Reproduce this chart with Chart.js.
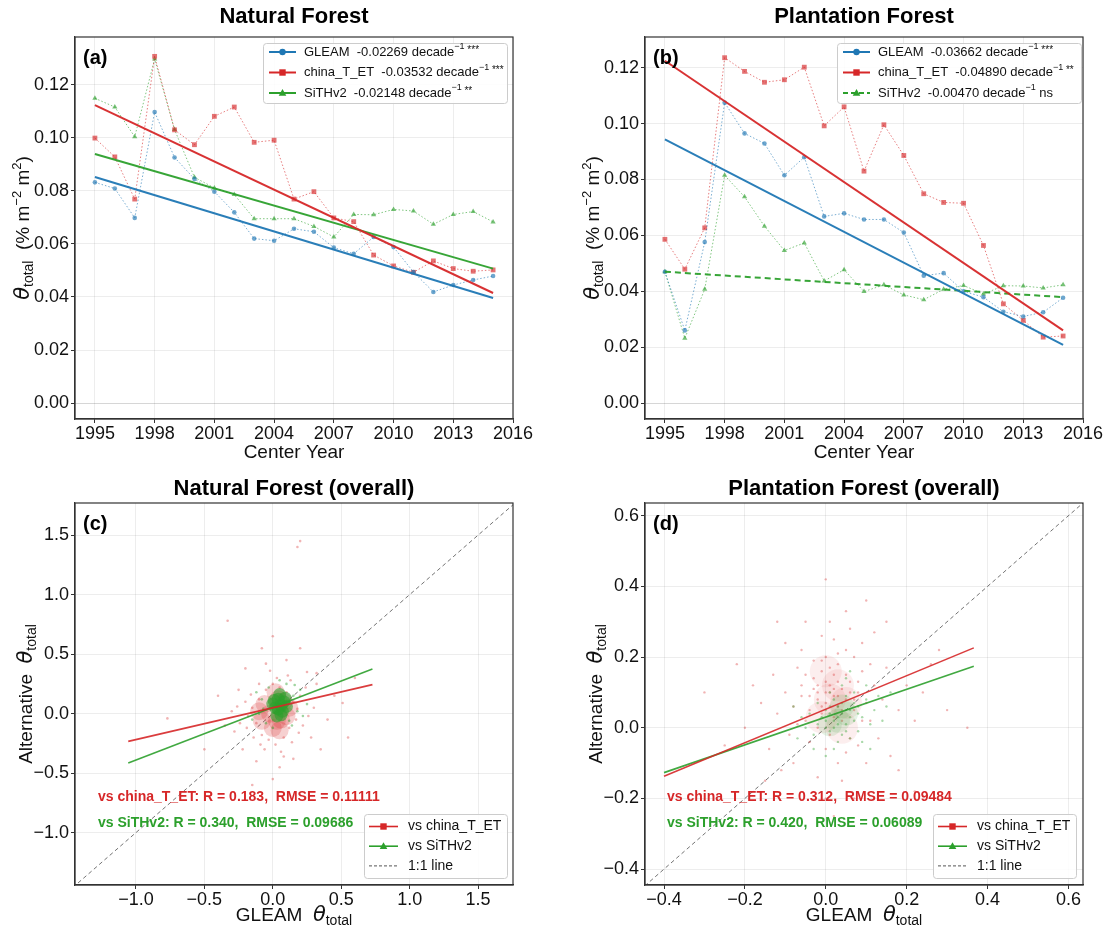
<!DOCTYPE html>
<html>
<head>
<meta charset="utf-8">
<script src="https://cdn.jsdelivr.net/npm/chart.js@4.4.0/dist/chart.umd.min.js"></script>
<style>
body { margin: 0; background: #fff; }
#wrap { position: relative; width: 1104px; height: 929px; }
canvas { position: absolute; }
</style>
</head>
<body>
<div id="wrap">
  <canvas id="pa" width="552" height="465" style="left:0;top:0"></canvas>
  <canvas id="pb" width="552" height="465" style="left:552px;top:0"></canvas>
  <canvas id="pc" width="552" height="464" style="left:0;top:465px"></canvas>
  <canvas id="pd" width="552" height="464" style="left:552px;top:465px"></canvas>
</div>
<script>
// ---- data: time series (center year) ----
const years = [1995,1996,1997,1998,1999,2000,2001,2002,2003,2004,2005,2006,2007,2008,2009,2010,2011,2012,2013,2014,2015];
const yearTicks = [1995,1998,2001,2004,2007,2010,2013,2016];
const thetaTicks = [0,0.02,0.04,0.06,0.08,0.10,0.12];
const trendYears = [1995, 2015];

// natural forest
const natGleam = [0.0832,0.0809,0.0698,0.1097,0.0926,0.0845,0.0797,0.0719,0.0620,0.0612,0.0657,0.0646,0.0586,0.0563,0.0626,0.0588,0.0494,0.0419,0.0445,0.0464,0.0479];
const natChina = [0.0999,0.0928,0.0769,0.1307,0.1030,0.0974,0.1081,0.1116,0.0983,0.0991,0.0769,0.0797,0.0698,0.0684,0.0558,0.0517,0.0493,0.0536,0.0507,0.0497,0.0502];
const natSith  = [0.1149,0.1116,0.1004,0.1297,0.1031,0.0851,0.0811,0.0786,0.0695,0.0695,0.0695,0.0666,0.0626,0.0711,0.0710,0.0730,0.0724,0.0674,0.0711,0.0722,0.0683];
const natTrendGleam = [0.0852, 0.0396];
const natTrendChina = [0.1123, 0.0415];
const natTrendSith  = [0.0939, 0.0507];
const natSlopes = ['-0.02269', '-0.03532', '-0.02148'];
const natSig = ['***', '***', '**'];

// plantation forest
const plaGleam = [0.0470,0.0260,0.0576,0.1075,0.0965,0.0929,0.0815,0.0880,0.0668,0.0679,0.0657,0.0657,0.0610,0.0456,0.0465,0.0400,0.0379,0.0327,0.0310,0.0325,0.0377];
const plaChina = [0.0586,0.0479,0.0627,0.1236,0.1187,0.1148,0.1157,0.1202,0.0992,0.1060,0.0830,0.0996,0.0886,0.0749,0.0718,0.0715,0.0564,0.0355,0.0296,0.0236,0.0240];
const plaSith  = [0.0470,0.0232,0.0407,0.0815,0.0738,0.0633,0.0546,0.0573,0.0437,0.0477,0.0399,0.0423,0.0387,0.0370,0.0407,0.0421,0.0390,0.0420,0.0419,0.0412,0.0423];
const plaTrendGleam = [0.0944, 0.0208];
const plaTrendChina = [0.1225, 0.0260];
const plaTrendSith  = [0.0470, 0.0379];
const plaSlopes = ['-0.03662', '-0.04890', '-0.00470'];
const plaSig = ['***', '**', 'ns'];

// ---- data: overall scatter (GLEAM vs alternative) ----
const natTicks = [-1.0,-0.5,0.0,0.5,1.0,1.5];
const plaTicks = [-0.4,-0.2,0.0,0.2,0.4,0.6];
const natR = ['0.183', '0.340'];
const natRmse = ['0.11111', '0.09686'];
const plaR = ['0.312', '0.420'];
const plaRmse = ['0.09484', '0.06089'];
const natRegChina = [[-1.056,-0.233],[0.728,0.244]];
const natRegSith  = [[-1.056,-0.415],[0.728,0.376]];
const plaRegChina = [[-0.40,-0.137],[0.366,0.226]];
const plaRegSith  = [[-0.40,-0.127],[0.366,0.174]];
const natOneToOne = [-1.5, 1.8];
const plaOneToOne = [-0.5, 0.7];

const natChinaPts = [[-0.15,0.05],[-0.12,-0.08],[-0.1,0.12],[-0.08,-0.18],[-0.05,0.2],[-0.03,-0.22],[0.0,0.25],[0.02,-0.26],[0.05,0.22],[0.08,-0.2],
  [0.1,0.18],[0.12,-0.12],[0.15,0.1],[0.17,-0.05],[0.18,0.04],[-0.18,-0.02],[-0.2,0.1],[0.2,0.15],[-0.06,-0.3],[0.06,-0.32],
  [0.03,0.3],[-0.1,0.25],[0.13,0.28],[-0.14,-0.2],[0.22,-0.1],[-0.3,0.02],[-0.28,-0.15],[-0.25,0.2],[-0.22,-0.3],[-0.35,-0.1],
  [0.3,0.05],[0.28,-0.2],[0.32,0.25],[0.25,0.35],[-0.05,0.42],[0.05,-0.45],[-0.12,-0.4],[0.15,-0.38],[0.1,0.45],[-0.2,0.38],
  [0.4,-0.05],[0.45,0.15],[-0.4,0.15],[0.35,-0.3],[-0.08,0.55],[0.0,-0.55],[0.2,0.55],[-0.33,0.78],[-0.77,-0.04],[0.32,0.34],
  [0.51,0.09],[0.20,1.45],[0.18,1.40],[0.6,0.3],[-0.5,-0.3],[0.0,0.65],[-0.15,-0.6],[0.55,-0.2],[-0.24,-0.08],[0.26,-0.02],
  [-0.16,0.16],[0.19,-0.16],[-0.09,-0.26],[0.11,0.32],[-0.19,-0.12],[0.24,0.22],[0.08,-0.36],[-0.02,0.36],[0.14,-0.24],[-0.26,0.06]];
const natChinaCore = [[-0.02,0.0],[0.06,-0.05],[0.0,-0.12],[0.08,0.1],[-0.06,0.08],[0.04,0.12],[0.1,-0.02],[-0.08,-0.06],
  [0.05,-0.14],[0.12,0.05],[-0.1,0.02],[0.02,0.18],[0.03,-0.06]];
const natSithCore = [[0.02,0.05],[0.08,0.1],[0.04,0.12],[0.07,0.02],[0.0,0.08],[0.1,0.06],[0.05,0.16],[0.03,-0.02],
  [0.06,0.07],[0.04,0.04],[0.09,0.13],[0.01,0.11],[0.06,-0.01]];
const natSithPts = [[-0.1,0.0],[-0.08,0.12],[0.15,0.15],[0.18,0.02],[-0.05,-0.08],[0.12,-0.06],[0.2,0.2],[-0.12,0.18],[0.1,0.25],[0.0,-0.12],
  [0.25,0.08],[-0.15,-0.05],[0.22,-0.02],[0.05,0.28],[-0.03,0.22],[0.16,0.24],[-0.07,0.04],[0.14,-0.1]];

const plaChinaPts = [[-0.02,0.08],[0.01,0.1],[0.03,0.06],[0.0,0.13],[0.04,0.11],[-0.04,0.05],[0.02,0.15],[0.05,0.08],[-0.01,0.04],[0.06,0.13],
  [-0.03,0.11],[0.03,0.18],[0.07,0.05],[-0.06,0.09],[0.0,0.2],[0.08,0.1],[-0.05,0.15],[0.04,0.02],[0.01,-0.02],[-0.02,0.0],
  [0.09,0.16],[-0.08,0.06],[0.05,0.22],[-0.03,0.19],[0.1,0.07],[0.06,-0.03],[-0.07,0.01],[0.02,0.25],[0.12,0.12],[-0.1,0.1],
  [0.0,-0.06],[0.08,-0.05],[-0.04,-0.04],[0.11,0.02],[-0.09,-0.02],[0.03,-0.1],[0.14,0.08],[-0.12,0.04],[0.07,0.2],[-0.06,0.22],
  [0.01,0.3],[0.15,0.17],[-0.13,0.15],[0.1,-0.1],[-0.08,-0.1],[0.04,-0.15],[-0.02,-0.14],[0.18,0.05],[-0.16,0.07],[0.13,-0.03],
  [-0.14,-0.06],[0.06,0.28],[-0.01,0.26],[0.2,0.12],[-0.18,0.12],[0.09,0.24],[0.16,-0.08],[-0.11,-0.12],[0.0,-0.2],[0.22,0.02],
  [-0.2,0.0],[0.05,0.33],[-0.05,0.3],[0.12,0.27],[-0.1,0.24],[0.24,0.1],[0.02,-0.25],[0.18,-0.12],[-0.15,-0.15],[0.26,0.18],
  [-0.22,0.18],[0.07,-0.2],[0.3,0.05],[-0.25,-0.05],[0.1,0.36],[0.15,0.3],[-0.12,0.3],[0.22,-0.18],[0.28,0.22],[-0.3,0.1],
  [0.35,0.0],[0.0,0.42],[-0.02,0.1],[0.02,0.09],[0.0,0.07],[0.03,0.13],[-0.01,0.16],[0.01,0.12],[0.03,0.09],[-0.01,0.06],
  [0.02,0.11],[-0.03,0.14],[0.05,0.15],[0.01,0.17],[-0.04,0.09],[0.06,0.1],[0.04,0.05],[-0.02,0.12],[0.08,0.13],[0.0,0.1],
  [-0.06,0.12],[0.03,0.21],[0.07,0.08],[-0.01,0.19],[0.02,0.03],[-0.05,0.02],[0.09,0.02],[0.05,-0.07],[-0.07,0.17],[0.11,0.18]];
const plaChinaCore = [[0.01,0.08],[0.03,0.12],[-0.01,0.03],[0.04,0.0],[0.0,0.16],[0.05,0.07]];
const plaSithPts = [[0.02,0.02],[0.04,0.04],[0.0,0.0],[0.05,0.01],[0.03,0.06],[0.01,-0.01],[0.06,0.05],[-0.01,0.03],[0.07,0.02],[0.02,0.08],
  [0.04,-0.02],[-0.02,0.01],[0.08,0.06],[0.05,0.09],[0.0,0.05],[0.09,0.03],[-0.03,-0.02],[0.03,-0.04],[0.1,0.08],[-0.04,0.04],
  [0.06,-0.03],[0.11,0.01],[0.01,0.1],[-0.05,0.0],[0.08,-0.01],[0.12,0.05],[0.04,0.12],[-0.02,0.07],[0.07,0.1],[0.13,0.09],
  [-0.06,0.03],[0.02,-0.06],[0.09,-0.04],[0.14,0.02],[-0.03,-0.06],[0.05,0.14],[0.1,0.12],[-0.07,-0.03],[0.15,0.06],[0.0,-0.08],
  [0.16,0.1],[0.06,0.16],[-0.08,0.06],[0.11,-0.06],[0.03,0.03],[0.05,0.05],[0.01,0.04],[0.04,0.07],[0.02,0.0],[0.06,0.03],
  [0.03,0.01],[0.0,0.02],[0.07,0.07],[0.01,0.06],[0.05,-0.01],[0.08,0.04]];
const plaSithCore = [[0.03,0.02],[0.05,0.04],[0.01,0.01],[0.04,0.06]];

// ---- colours ----
const BLUE = '31,119,180', RED = '214,39,40', GREEN = '44,160,44';
function rgba(c, a) { return 'rgba(' + c + ',' + a + ')'; }
const FONT = '"Liberation Sans", Arial, sans-serif';
Chart.defaults.font.family = FONT;

function pts(list) { return list.map(p => ({x: p[0], y: p[1]})); }

function seriesDs(vals, col, style, rad) {
  return {
    data: years.map((x, i) => ({x: x, y: vals[i]})),
    showLine: true, borderColor: rgba(col, 0.6), borderWidth: 1, borderDash: [1.5, 2],
    pointStyle: style, pointRadius: rad, pointBackgroundColor: rgba(col, 0.65), pointBorderWidth: 0
  };
}
function trendDs(ends, col, dash) {
  return {
    data: trendYears.map((x, i) => ({x: x, y: ends[i]})),
    showLine: true, borderColor: rgba(col, 0.95), borderWidth: 2, borderDash: dash || [], pointRadius: 0
  };
}
function lineDs(seg, col, width, dash) {
  return { data: pts(seg), showLine: true, borderColor: col, borderWidth: width, borderDash: dash || [], pointRadius: 0 };
}
function cloudDs(list, col, alpha, rad) {
  return { data: pts(list), showLine: false, pointRadius: rad, pointBackgroundColor: rgba(col, alpha), pointBorderWidth: 0 };
}

function axis(min, max, ticks, fmt, fixed, horizontal, zeroDark) {
  return {
    type: 'linear', min: min, max: max,
    afterBuildTicks: s => { s.ticks = ticks.map(v => ({value: v})); },
    afterFit: s => {
      if (horizontal) { s.height = fixed; s.paddingLeft = 0; s.paddingRight = 0; }
      else { s.width = fixed; s.paddingTop = 0; s.paddingBottom = 0; }
    },
    grid: {
      color: c => (zeroDark && c.tick && Math.abs(c.tick.value) < 1e-9) ? 'rgba(0,0,0,0.16)' : 'rgba(0,0,0,0.07)',
      lineWidth: 1, tickLength: 4, tickColor: '#333', tickWidth: 1
    },
    border: { display: true, color: '#333', width: 1.2 },
    ticks: { font: {size: 18}, color: '#111', padding: horizontal ? 0 : 2, autoSkip: false, maxRotation: 0, callback: v => fmt(v) }
  };
}

// rich text: parts = [text, size, dy, style, family]
function rich(ctx, parts, x, y, rotate, align) {
  ctx.save();
  ctx.translate(x, y);
  if (rotate) ctx.rotate(-Math.PI / 2);
  let w = 0;
  parts.forEach(p => { ctx.font = (p[3] || '') + ' ' + p[1] + 'px ' + (p[4] || FONT); w += ctx.measureText(p[0]).width; });
  let cx = align === 'left' ? 0 : -w / 2;
  ctx.textAlign = 'left';
  ctx.textBaseline = 'middle';
  parts.forEach(p => {
    ctx.font = (p[3] || '') + ' ' + p[1] + 'px ' + (p[4] || FONT);
    ctx.fillText(p[0], cx, p[2]);
    cx += ctx.measureText(p[0]).width;
  });
  ctx.restore();
}

function marker(ctx, kind, x, y, col) {
  ctx.fillStyle = col;
  ctx.beginPath();
  if (kind === 'circle') ctx.arc(x, y, 3.2, 0, Math.PI * 2);
  else if (kind === 'rect') ctx.rect(x - 3.2, y - 3.2, 6.4, 6.4);
  else if (kind === 'triangle') { ctx.moveTo(x, y - 4); ctx.lineTo(x + 3.8, y + 2.8); ctx.lineTo(x - 3.8, y + 2.8); ctx.closePath(); }
  else return;
  ctx.fill();
}

function drawLegend(ctx, lg) {
  ctx.save();
  ctx.fillStyle = 'rgba(255,255,255,0.85)';
  ctx.strokeStyle = '#cccccc';
  ctx.lineWidth = 1;
  ctx.beginPath();
  ctx.roundRect(lg.x + 0.5, lg.y + 0.5, lg.w, lg.h, 3);
  ctx.fill(); ctx.stroke();
  lg.rows.forEach((r, i) => {
    const cy = lg.y + lg.first + i * lg.rowH;
    ctx.strokeStyle = r.color; ctx.lineWidth = r.lw || 2;
    ctx.setLineDash(r.dash || []);
    ctx.beginPath(); ctx.moveTo(lg.x + lg.s0, cy); ctx.lineTo(lg.x + lg.s1, cy); ctx.stroke();
    ctx.setLineDash([]);
    marker(ctx, r.marker, lg.x + (lg.s0 + lg.s1) / 2, cy, r.color);
    ctx.fillStyle = '#111';
    rich(ctx, r.parts, lg.x + lg.tx, cy, false, 'left');
  });
  ctx.restore();
}

function decor(spec) {
  return {
    id: 'decor',
    afterDraw(chart) {
      const ctx = chart.ctx, a = chart.chartArea;
      ctx.save();
      ctx.strokeStyle = '#333'; ctx.lineWidth = 1.2;
      ctx.strokeRect(a.left, a.top, a.right - a.left, a.bottom - a.top);
      ctx.fillStyle = '#000';
      ctx.font = 'bold 22px ' + FONT;
      ctx.textAlign = 'center'; ctx.textBaseline = 'middle';
      ctx.fillText(spec.title, (a.left + a.right) / 2, spec.titleY);
      ctx.font = 'bold 20px ' + FONT;
      ctx.textAlign = 'left';
      ctx.fillText(spec.tag, a.left + 8, a.top + 21);
      ctx.fillStyle = '#111';
      rich(ctx, spec.xlabel, (a.left + a.right) / 2, spec.xlabelY, false);
      rich(ctx, spec.ylabel, spec.ylabelX, (a.top + a.bottom) / 2, true);
      (spec.notes || []).forEach(n => {
        ctx.font = 'bold 14px ' + FONT;
        ctx.fillStyle = n.color; ctx.textAlign = 'left'; ctx.textBaseline = 'middle';
        ctx.fillText(n.text, a.left + n.dx, a.top + n.dy);
      });
      drawLegend(ctx, spec.legend);
      ctx.restore();
    }
  };
}

const THETA = ['θ', 21, 0, 'italic', '"DejaVu Sans", sans-serif'];
const SUB = ['total', 14, 5, ''];
const thetaLabel = [THETA, SUB, ['  (% m', 19, 0, ''], ['−2', 13, -7, ''], [' m', 19, 0, ''], ['2', 13, -7, ''], [')', 19, 0, '']];
const yearLabel = [['Center Year', 19, 0, '']];
const gleamLabel = [['GLEAM  ', 19, 0, ''], THETA, SUB];
const altLabel = [['Alternative  ', 19, 0, ''], THETA, SUB];

function trendLegend(x, slopes, sig, sithDash) {
  const names = ['GLEAM', 'china_T_ET', 'SiTHv2'];
  const cols = [BLUE, RED, GREEN];
  const marks = ['circle', 'rect', 'triangle'];
  return {
    x: x, y: 43, w: 244, h: 60, first: 9, rowH: 20.5, s0: 6, s1: 33, tx: 41,
    rows: names.map((n, i) => ({
      color: rgba(cols[i], 1), marker: marks[i], dash: (i === 2 && sithDash) ? [5, 3] : [],
      parts: [[n + '  ' + slopes[i] + ' decade', 13, 0, ''], ['−1', 9, -5, ''], [' ' + sig[i], sig[i] === 'ns' ? 13 : 10, sig[i] === 'ns' ? 0 : -2, '']]
    }))
  };
}
function scatterLegend(x) {
  return {
    x: x, y: 349, w: 143, h: 64, first: 12.5, rowH: 19.7, s0: 5, s1: 34, tx: 44,
    rows: [
      {color: rgba(RED, 1), marker: 'rect', parts: [['vs china_T_ET', 14, 0, '']], lw: 1.6},
      {color: rgba(GREEN, 1), marker: 'triangle', parts: [['vs SiTHv2', 14, 0, '']], lw: 1.6},
      {color: '#555', marker: 'none', dash: [3, 2], lw: 1, parts: [['1:1 line', 14, 0, '']]}
    ]
  };
}

function makeChart(id, datasets, xAx, yAx, pad, spec) {
  new Chart(document.getElementById(id), {
    type: 'scatter',
    data: { datasets: datasets },
    options: {
      responsive: false, animation: false, devicePixelRatio: 1,
      layout: { padding: pad, autoPadding: false },
      plugins: { legend: {display: false}, tooltip: {enabled: false}, title: {display: false} },
      scales: { x: xAx, y: yAx }
    },
    plugins: [decor(spec)]
  });
}

const yearFmt = v => String(v);
const thetaFmt = v => v.toFixed(2);
const oneFmt = v => v.toFixed(1).replace('-', '−');

// (a) natural forest time series
makeChart('pa', [
  trendDs(natTrendGleam, BLUE), trendDs(natTrendChina, RED), trendDs(natTrendSith, GREEN),
  seriesDs(natGleam, BLUE, 'circle', 2.3), seriesDs(natChina, RED, 'rect', 3.4), seriesDs(natSith, GREEN, 'triangle', 3)
], axis(1994, 2016, yearTicks, yearFmt, 46, true), axis(-0.006, 0.138, thetaTicks, thetaFmt, 75, false, true),
  {left: 0, top: 37, right: 39, bottom: 0},
  {title: 'Natural Forest', titleY: 17, tag: '(a)', xlabel: yearLabel, xlabelY: 453, ylabel: thetaLabel, ylabelX: 24,
   legend: trendLegend(263, natSlopes, natSig, false)});

// (b) plantation forest time series
makeChart('pb', [
  trendDs(plaTrendGleam, BLUE), trendDs(plaTrendChina, RED), trendDs(plaTrendSith, GREEN, [6, 4]),
  seriesDs(plaGleam, BLUE, 'circle', 2.3), seriesDs(plaChina, RED, 'rect', 3.4), seriesDs(plaSith, GREEN, 'triangle', 3)
], axis(1994, 2016, yearTicks, yearFmt, 46, true), axis(-0.0057, 0.131, thetaTicks, thetaFmt, 93, false, true),
  {left: 0, top: 37, right: 21, bottom: 0},
  {title: 'Plantation Forest', titleY: 17, tag: '(b)', xlabel: yearLabel, xlabelY: 453, ylabel: thetaLabel, ylabelX: 42,
   legend: trendLegend(285, plaSlopes, plaSig, true)});

// (c) natural forest overall
makeChart('pc', [
  lineDs(natRegChina, rgba(RED, 0.9), 1.6), lineDs(natRegSith, rgba(GREEN, 0.9), 1.6),
  cloudDs(natSithPts, GREEN, 0.45, 1.3), cloudDs(natSithCore, GREEN, 0.6, 6.5),
  cloudDs(natChinaCore, RED, 0.22, 9), cloudDs(natChinaPts, RED, 0.35, 1.3),
  lineDs([[natOneToOne[0], natOneToOne[0]], [natOneToOne[1], natOneToOne[1]]], 'rgba(80,80,80,0.8)', 1, [4, 3])
], axis(-1.445, 1.755, natTicks, oneFmt, 44, true), axis(-1.44, 1.77, natTicks, oneFmt, 75, false),
  {left: 0, top: 38, right: 39, bottom: 0},
  {title: 'Natural Forest (overall)', titleY: 24, tag: '(c)', xlabel: gleamLabel, xlabelY: 451, ylabel: altLabel, ylabelX: 27,
   notes: [
     {text: 'vs china_T_ET: R = ' + natR[0] + ',  RMSE = ' + natRmse[0], color: rgba(RED, 1), dx: 23, dy: 294},
     {text: 'vs SiTHv2: R = ' + natR[1] + ',  RMSE = ' + natRmse[1], color: rgba(GREEN, 1), dx: 23, dy: 320}
   ],
   legend: scatterLegend(364)});

// (d) plantation forest overall
makeChart('pd', [
  lineDs(plaRegChina, rgba(RED, 0.9), 1.6), lineDs(plaRegSith, rgba(GREEN, 0.9), 1.6),
  cloudDs(plaSithPts, GREEN, 0.4, 1.2), cloudDs(plaSithCore, GREEN, 0.12, 12),
  cloudDs(plaChinaPts, RED, 0.35, 1.2), cloudDs(plaChinaCore, RED, 0.08, 16),
  lineDs([[plaOneToOne[0], plaOneToOne[0]], [plaOneToOne[1], plaOneToOne[1]]], 'rgba(80,80,80,0.8)', 1, [4, 3])
], axis(-0.447, 0.636, plaTicks, oneFmt, 44, true), axis(-0.445, 0.636, plaTicks, oneFmt, 93, false),
  {left: 0, top: 38, right: 21, bottom: 0},
  {title: 'Plantation Forest (overall)', titleY: 24, tag: '(d)', xlabel: gleamLabel, xlabelY: 451, ylabel: altLabel, ylabelX: 45,
   notes: [
     {text: 'vs china_T_ET: R = ' + plaR[0] + ',  RMSE = ' + plaRmse[0], color: rgba(RED, 1), dx: 22, dy: 294},
     {text: 'vs SiTHv2: R = ' + plaR[1] + ',  RMSE = ' + plaRmse[1], color: rgba(GREEN, 1), dx: 22, dy: 320}
   ],
   legend: scatterLegend(381)});
</script>
</body>
</html>
